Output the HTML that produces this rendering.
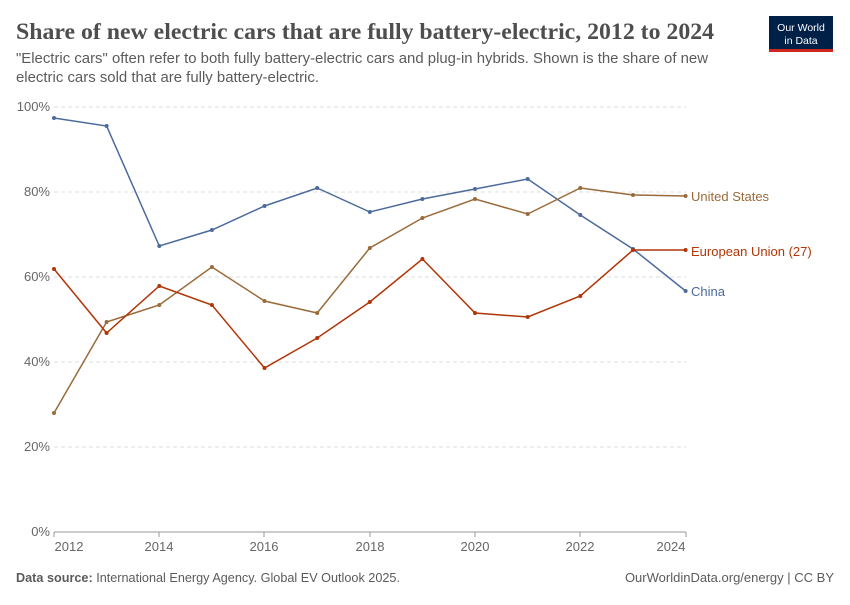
<!DOCTYPE html>
<html><head><meta charset="utf-8"><style>
body{margin:0;background:#fff;font-family:"Liberation Sans",sans-serif;}
</style></head><body>
<svg width="850" height="600" xmlns="http://www.w3.org/2000/svg" font-family="Liberation Sans, sans-serif">
<rect width="850" height="600" fill="#fff"/>
<text x="16" y="39" font-family="Liberation Serif, serif" font-size="23.5" font-weight="bold" fill="#4e4e4e" textLength="698" lengthAdjust="spacingAndGlyphs">Share of new electric cars that are fully battery-electric, 2012 to 2024</text>
<text x="16" y="63" font-size="14.5" fill="#5b5b5b" textLength="692" lengthAdjust="spacingAndGlyphs">"Electric cars" often refer to both fully battery-electric cars and plug-in hybrids. Shown is the share of new</text>
<text x="16" y="82" font-size="14.5" fill="#5b5b5b" textLength="303" lengthAdjust="spacingAndGlyphs">electric cars sold that are fully battery-electric.</text>
<rect x="769" y="16" width="64" height="36" fill="#002147"/>
<rect x="769" y="49" width="64" height="3" fill="#ce261e"/>
<text x="801" y="31" font-size="10.5" fill="#fff" text-anchor="middle">Our World</text>
<text x="801" y="44" font-size="10.5" fill="#fff" text-anchor="middle">in Data</text>
<g stroke="#ddd" stroke-dasharray="4,3">
<line x1="54" x2="686" y1="107" y2="107"/><line x1="54" x2="686" y1="192" y2="192"/><line x1="54" x2="686" y1="277" y2="277"/><line x1="54" x2="686" y1="362" y2="362"/><line x1="54" x2="686" y1="447" y2="447"/>
</g>
<line x1="54" x2="686" y1="532" y2="532" stroke="#999"/>
<g font-size="13" fill="#666" text-anchor="end">
<text x="50" y="111">100%</text><text x="50" y="196">80%</text><text x="50" y="281">60%</text><text x="50" y="366">40%</text><text x="50" y="451">20%</text><text x="50" y="536">0%</text>
</g>
<g font-size="13" fill="#666" text-anchor="middle">
<text x="69" y="551">2012</text><text x="159" y="551">2014</text><text x="264" y="551">2016</text><text x="370" y="551">2018</text><text x="475" y="551">2020</text><text x="580" y="551">2022</text><text x="671" y="551">2024</text>
</g>
<g stroke="#999"><line x1="159" x2="159" y1="532" y2="537"/><line x1="264" x2="264" y1="532" y2="537"/><line x1="370" x2="370" y1="532" y2="537"/><line x1="475" x2="475" y1="532" y2="537"/><line x1="580" x2="580" y1="532" y2="537"/><line x1="686" x2="686" y1="532" y2="537"/><line x1="54" x2="54" y1="532" y2="537"/></g>
<polyline fill="none" stroke="#4c6a9c" stroke-width="1.5" points="54,118 106.6,126 159.3,246 211.9,230 264.5,206 317.2,188 369.8,212 422.4,199 475,189 527.7,179 580.3,215 633,249 685.6,291"/>
<polyline fill="none" stroke="#9a6b3a" stroke-width="1.5" points="54,413 106.6,322 159.3,305 211.9,267 264.5,301 317.2,313 369.8,248 422.4,218 475,199 527.7,214 580.3,188 633,195 685.6,196"/>
<polyline fill="none" stroke="#b13507" stroke-width="1.5" points="54,269 106.6,333 159.3,286 211.9,305 264.5,368 317.2,338 369.8,302 422.4,259 475,313 527.7,317 580.3,296 633,250 685.6,250"/>
<g fill="#4c6a9c"><circle cx="54" cy="118" r="2"/><circle cx="106.6" cy="126" r="2"/><circle cx="159.3" cy="246" r="2"/><circle cx="211.9" cy="230" r="2"/><circle cx="264.5" cy="206" r="2"/><circle cx="317.2" cy="188" r="2"/><circle cx="369.8" cy="212" r="2"/><circle cx="422.4" cy="199" r="2"/><circle cx="475" cy="189" r="2"/><circle cx="527.7" cy="179" r="2"/><circle cx="580.3" cy="215" r="2"/><circle cx="633" cy="249" r="2"/><circle cx="685.6" cy="291" r="2"/></g>
<g fill="#9a6b3a"><circle cx="54" cy="413" r="2"/><circle cx="106.6" cy="322" r="2"/><circle cx="159.3" cy="305" r="2"/><circle cx="211.9" cy="267" r="2"/><circle cx="264.5" cy="301" r="2"/><circle cx="317.2" cy="313" r="2"/><circle cx="369.8" cy="248" r="2"/><circle cx="422.4" cy="218" r="2"/><circle cx="475" cy="199" r="2"/><circle cx="527.7" cy="214" r="2"/><circle cx="580.3" cy="188" r="2"/><circle cx="633" cy="195" r="2"/><circle cx="685.6" cy="196" r="2"/></g>
<g fill="#b13507"><circle cx="54" cy="269" r="2"/><circle cx="106.6" cy="333" r="2"/><circle cx="159.3" cy="286" r="2"/><circle cx="211.9" cy="305" r="2"/><circle cx="264.5" cy="368" r="2"/><circle cx="317.2" cy="338" r="2"/><circle cx="369.8" cy="302" r="2"/><circle cx="422.4" cy="259" r="2"/><circle cx="475" cy="313" r="2"/><circle cx="527.7" cy="317" r="2"/><circle cx="580.3" cy="296" r="2"/><circle cx="633" cy="250" r="2"/><circle cx="685.6" cy="250" r="2"/></g>
<g font-size="13">
<text x="691" y="201" fill="#9a6b3a">United States</text>
<text x="691" y="256" fill="#b13507">European Union (27)</text>
<text x="691" y="296" fill="#4c6a9c">China</text>
</g>
<text x="16" y="582" font-size="13" fill="#5b5b5b" textLength="384" lengthAdjust="spacingAndGlyphs"><tspan font-weight="bold">Data source:</tspan> International Energy Agency. Global EV Outlook 2025.</text>
<text x="834" y="582" font-size="13" fill="#5b5b5b" text-anchor="end">OurWorldinData.org/energy | CC BY</text>
</svg>
</body></html>
